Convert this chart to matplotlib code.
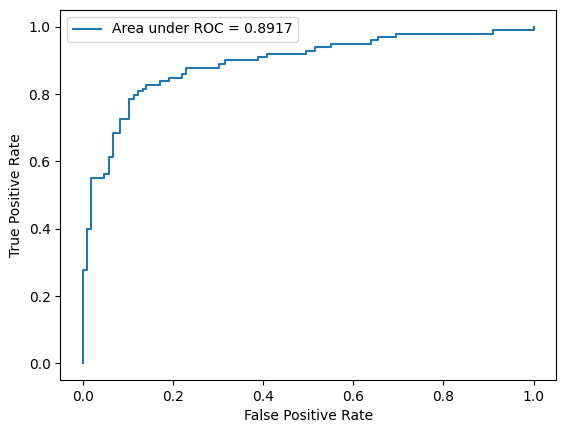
import matplotlib
matplotlib.use("Agg")
import matplotlib.pyplot as plt

# ROC step points (fpr of each vertical jump, tpr reached after the jump)
step_fpr = [0.0, 0.009, 0.018, 0.047, 0.057, 0.066, 0.083, 0.103, 0.113, 0.123,
            0.133, 0.141, 0.171, 0.191, 0.220, 0.228, 0.303, 0.315, 0.389, 0.408,
            0.494, 0.514, 0.55, 0.64, 0.655, 0.695, 0.91, 1.0]
step_tpr = [0.277, 0.399, 0.551, 0.5625, 0.614, 0.685, 0.727, 0.786, 0.798, 0.808,
            0.815, 0.828, 0.838, 0.849, 0.859, 0.879, 0.890, 0.900, 0.910, 0.920,
            0.929, 0.941, 0.95, 0.96, 0.97, 0.98, 0.99, 1.0]
auc = 0.8917

fpr = [0.0]
tpr = [0.0]
for f, t in zip(step_fpr, step_tpr):
    fpr += [f, f]
    tpr += [tpr[-1], t]

fig, ax = plt.subplots(figsize=(5.74, 4.34), dpi=100)
ax.plot(fpr, tpr, color="C0", label=f"Area under ROC = {auc:.4f}")
ax.set_xlabel("False Positive Rate")
ax.set_ylabel("True Positive Rate")
ax.legend(loc="upper left")
fig.subplots_adjust(left=0.105, right=0.969, top=0.977, bottom=0.124)
fig.savefig("out.png")
